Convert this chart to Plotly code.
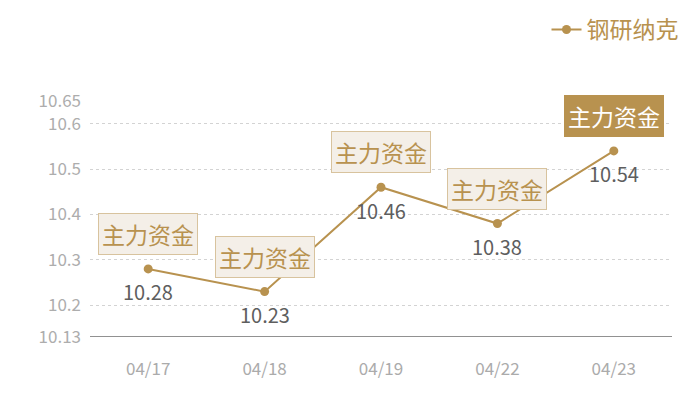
import plotly.graph_objects as go

dates = ['04/17', '04/18', '04/19', '04/22', '04/23']
prices = [10.28, 10.23, 10.46, 10.38, 10.54]
y_ticks = [10.13, 10.2, 10.3, 10.4, 10.5, 10.6, 10.65]
y_tick_text = ['10.13', '10.2', '10.3', '10.4', '10.5', '10.6', '10.65']
tag = '主力资金'

gold = '#B8924F'
font = 'Noto Sans CJK SC'

fig = go.Figure()
fig.add_trace(go.Scatter(
    x=dates, y=prices, name='钢研纳克',
    mode='lines+markers',
    line=dict(color=gold, width=2),
    marker=dict(color=gold, size=9),
))

for i, (d, p) in enumerate(zip(dates, prices)):
    last = i == len(dates) - 1
    # value label under the point
    fig.add_annotation(
        x=d, y=p, text=str(p), showarrow=False, yshift=-23,
        font=dict(size=20, family=font, color='#5E5E5E'),
    )
    # 主力资金 tag above the point, last one highlighted
    fig.add_annotation(
        x=d, y=p, text=tag, showarrow=False, yshift=35,
        font=dict(size=23, family=font, color='white' if last else gold),
        bgcolor=gold if last else '#F4EFE8',
        bordercolor=gold if last else '#D8C39E',
        borderwidth=1, borderpad=3,
    )

fig.update_layout(
    width=700, height=400,
    margin=dict(l=82, r=36, t=93, b=71, autoexpand=False),
    paper_bgcolor='white', plot_bgcolor='white',
    font=dict(family=font),
    showlegend=True,
    legend=dict(orientation='h', xref='container', yref='container',
                x=0.965, xanchor='right', y=1.0, yanchor='top',
                font=dict(size=23, color=gold, family=font)),
    xaxis=dict(type='category', range=[-0.5, 4.5], showgrid=False,
               ticks='', tickfont=dict(size=17, color='#ABABAB'),
               showline=False, zeroline=False, ticklabelstandoff=20),
    yaxis=dict(range=[10.13, 10.65], tickvals=y_ticks, ticktext=y_tick_text,
               showgrid=True, gridcolor='#D3D3D3', griddash='dot',
               tickfont=dict(size=17, color='#ADADAD'), zeroline=False,
               ticks='', ticklabelstandoff=8),
)
fig.add_hline(y=10.13, line=dict(color='#222222', width=1))

fig.write_html('out.html')
